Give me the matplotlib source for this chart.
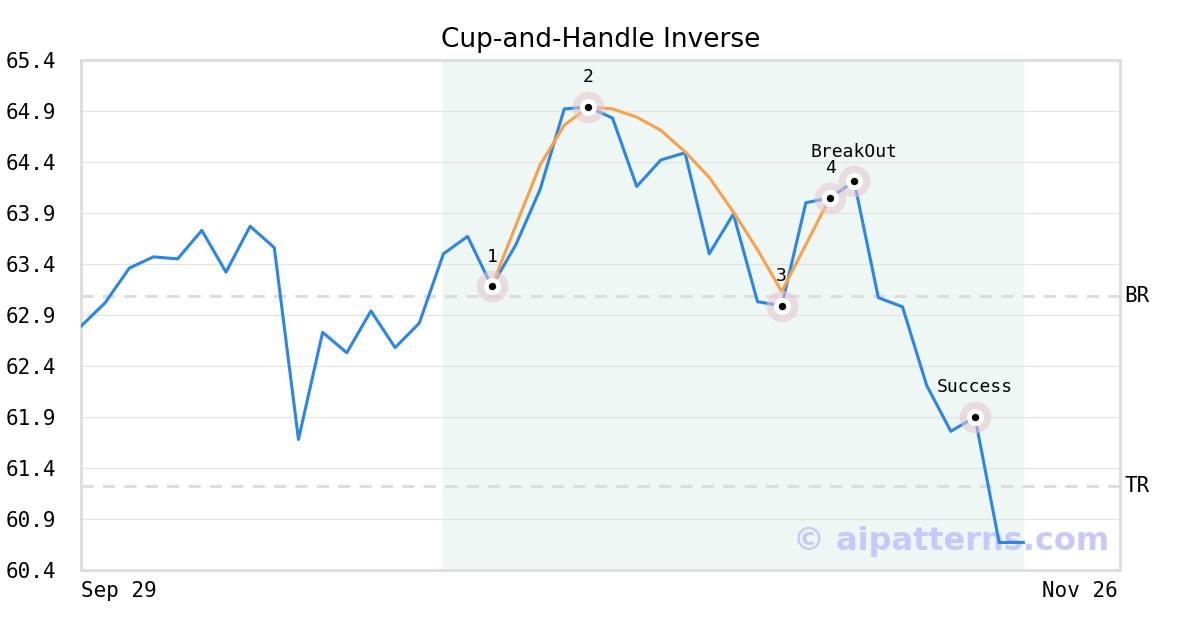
import numpy as np
import matplotlib.pyplot as plt

# data
prices = [62.79, 63.02, 63.36, 63.47, 63.45, 63.73, 63.32, 63.77, 63.56, 61.68,
          62.73, 62.53, 62.94, 62.58, 62.82, 63.50, 63.67, 63.18, 63.59, 64.13,
          64.92, 64.94, 64.83, 64.16, 64.42, 64.49, 63.50, 63.89, 63.03, 62.99,
          64.00, 64.05, 64.21, 63.07, 62.98, 62.21, 61.76, 61.90, 60.67, 60.67]
cup_idx = list(range(17, 32))
cup_vals = [63.18, 63.78, 64.37, 64.76, 64.94, 64.92, 64.84, 64.71, 64.50,
            64.25, 63.91, 63.54, 63.13, 63.59, 64.05]
mark_idx = [17, 21, 29, 31, 32, 37]
mark_labels = ["1", "2", "3", "4", "BreakOut", "Success"]
label_dy = [0.29, 0.29, 0.29, 0.29, 0.29, 0.29]
br_level = 63.09
tr_level = 61.22
shade_start, shade_end = 15, 39
yticks = [60.4, 60.9, 61.4, 61.9, 62.4, 62.9, 63.4, 63.9, 64.4, 64.9, 65.4]
x_labels = ["Sep 29", "Nov 26"]

mono = "DejaVu Sans Mono"

fig = plt.figure(figsize=(12, 6.3), dpi=100)
ax = fig.add_axes([0.0675, 0.0952, 0.8658, 0.8096])

x = np.arange(len(prices))
ax.axvspan(shade_start, shade_end, color="#eef7f3", zorder=0)
for yt in yticks:
    ax.axhline(yt, color="#e3e3e3", lw=0.8, zorder=1)
ax.axhline(br_level, color="#dddddd", lw=2.2, ls=(0, (4, 3)), zorder=1)
ax.axhline(tr_level, color="#dddddd", lw=2.2, ls=(0, (4, 3)), zorder=1)

# watermark sits under the price line
ax.text(0.99, 0.055, "© aipatterns.com", transform=ax.transAxes, ha="right",
        va="center", fontsize=23, fontweight="bold", color="#c8c8fa", zorder=2)

ax.plot(x, prices, color="#2a86e8", lw=2.2, zorder=3)
ax.plot(cup_idx, cup_vals, color="#f8a04a", lw=2.2, zorder=4)

mx = [x[i] for i in mark_idx]
my = [prices[i] for i in mark_idx]
ax.scatter(mx, my, s=520, color="#e6c6cf", alpha=0.55, lw=0, zorder=5)
ax.scatter(mx, my, s=150, color="white", lw=0, zorder=6)
ax.scatter(mx, my, s=28, color="black", lw=0, zorder=7)
for xi, yi, lab, dy in zip(mx, my, mark_labels, label_dy):
    ax.text(xi, yi + dy, lab, ha="center", va="center", fontsize=13,
            family=mono, zorder=8)

ax.set_xlim(0, 43)
ax.set_ylim(60.4, 65.4)
ax.set_yticks(yticks)
ax.set_yticklabels([f"{v:.1f}" for v in yticks], family=mono, fontsize=15,
                   va="center_baseline")
ax.tick_params(axis="y", length=0, pad=18)
ax.set_xticks([])
ax.text(0, -0.022, x_labels[0], transform=ax.transAxes, ha="left", va="top",
        family=mono, fontsize=15)
ax.text(0.998, -0.022, x_labels[1], transform=ax.transAxes, ha="right", va="top",
        family=mono, fontsize=15)
for lvl, name in [(br_level, "BR"), (tr_level, "TR")]:
    ax.text(1.004, lvl, name, transform=ax.get_yaxis_transform(), ha="left",
            va="center", family=mono, fontsize=15)

for s in ax.spines.values():
    s.set_color("#dddddd")
    s.set_linewidth(2)

ax.set_title("Cup-and-Handle Inverse", fontsize=19, pad=9)

fig.savefig("out.png", dpi=100)
